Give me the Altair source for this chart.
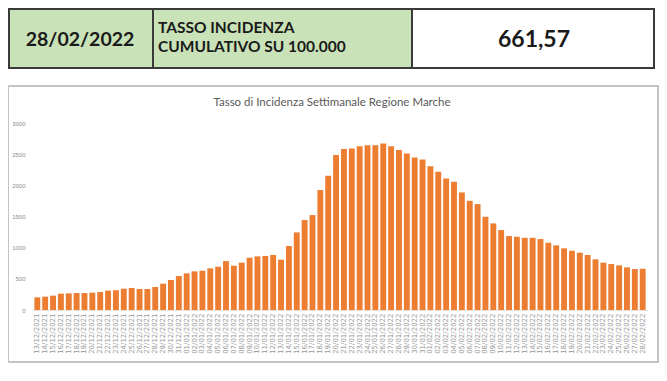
import altair as alt
import pandas as pd

# ---- data ----
dates = [
    "13/12/2021", "14/12/2021", "15/12/2021", "16/12/2021", "17/12/2021", "18/12/2021", "19/12/2021",
    "20/12/2021", "21/12/2021", "22/12/2021", "23/12/2021", "24/12/2021", "25/12/2021", "26/12/2021",
    "27/12/2021", "28/12/2021", "29/12/2021", "30/12/2021", "31/12/2021",
    "01/01/2022", "02/01/2022", "03/01/2022", "04/01/2022", "05/01/2022", "06/01/2022", "07/01/2022",
    "08/01/2022", "09/01/2022", "10/01/2022", "11/01/2022", "12/01/2022", "13/01/2022", "14/01/2022",
    "15/01/2022", "16/01/2022", "17/01/2022", "18/01/2022", "19/01/2022", "20/01/2022", "21/01/2022",
    "22/01/2022", "23/01/2022", "24/01/2022", "25/01/2022", "26/01/2022", "27/01/2022", "28/01/2022",
    "29/01/2022", "30/01/2022", "31/01/2022",
    "01/02/2022", "02/02/2022", "03/02/2022", "04/02/2022", "05/02/2022", "06/02/2022", "07/02/2022",
    "08/02/2022", "09/02/2022", "10/02/2022", "11/02/2022", "12/02/2022", "13/02/2022", "14/02/2022",
    "15/02/2022", "16/02/2022", "17/02/2022", "18/02/2022", "19/02/2022", "20/02/2022", "21/02/2022",
    "22/02/2022", "23/02/2022", "24/02/2022", "25/02/2022", "26/02/2022", "27/02/2022", "28/02/2022",
]
values = [
    203, 214, 230, 262, 267, 272, 272, 278, 289, 310,
    315, 342, 353, 337, 337, 369, 422, 481, 545, 588,
    620, 630, 668, 694, 785, 710, 759, 839, 860, 866,
    882, 807, 1026, 1245, 1443, 1523, 1924, 2153, 2485, 2581,
    2592, 2629, 2645, 2645, 2672, 2629, 2565, 2511, 2447, 2415,
    2308, 2218, 2111, 2057, 1886, 1752, 1699, 1496, 1389, 1282,
    1186, 1175, 1159, 1159, 1138, 1079, 1037, 989, 951, 919,
    882, 813, 759, 737, 716, 684, 657, 661.57,
]
y_ticks = [0, 500, 1000, 1500, 2000, 2500, 3000]
chart_title = "Tasso di Incidenza Settimanale Regione Marche"
header_date = "28/02/2022"
header_label = ["TASSO INCIDENZA", "CUMULATIVO SU 100.000"]
header_value = "661,57"

df = pd.DataFrame({"data": dates, "tasso": values})
one = alt.Data(values=[{"k": 1}])


def box(x1, x2, y1, y2, fill, stroke, sw):
    return alt.Chart(one).mark_rect(fill=fill, stroke=stroke, strokeWidth=sw).encode(
        x=alt.value(x1), x2=alt.value(x2), y=alt.value(y1), y2=alt.value(y2)
    )


def label(txt, x, y, size, align="center", weight="bold", color="#1a1a1a", font="Lato"):
    return alt.Chart(one).mark_text(
        text=txt, font=font, fontSize=size, fontWeight=weight, align=align,
        baseline="middle", color=color
    ).encode(x=alt.value(x), y=alt.value(y))


# chart frame
frame = box(-24, 626, -37, 239, "transparent", "#c4c4c4", 2)

# header table
green = "#c9e2b8"
cell1 = box(-23, 121, -114, -55, green, "#3a3a3a", 2)
cell2 = box(121, 380, -114, -55, green, "#3a3a3a", 2)
cell3 = box(380, 622, -114, -55, "white", "#3a3a3a", 2)

t_date = label(header_date, 48, -83, 19.5)
t_l1 = label(header_label[0], 126, -95, 15.5, align="left")
t_l2 = label(header_label[1], 126, -76, 15.5, align="left")
t_val = label(header_value, 502, -83, 23)

t_title = label(chart_title, 300, -20, 11.5, weight="normal", color="#595959")

bars = alt.Chart(df).mark_bar(color="#ED7D31").encode(
    x=alt.X(
        "data:N", sort=dates,
        scale=alt.Scale(paddingInner=0.25, paddingOuter=0.3),
        axis=alt.Axis(
            title=None, labelAngle=270, labelFontSize=7, labelFont="DejaVu Sans",
            labelColor="#999999", ticks=False, domain=True, domainColor="#e3e3e3",
            labelOverlap=False, labelPadding=3, zindex=1,
        ),
    ),
    y=alt.Y(
        "tasso:Q",
        scale=alt.Scale(domain=[0, 3000], nice=False),
        axis=alt.Axis(
            title=None, values=y_ticks, format="d", grid=False, domain=False, ticks=False,
            labelFontSize=6, labelFont="Liberation Sans", labelColor="#8c8c8c",
            labelPadding=7, zindex=1,
        ),
    ),
)

chart = alt.layer(
    frame, cell1, cell2, cell3, t_date, t_l1, t_l2, t_val, t_title, bars
).properties(
    width=616,
    height=187,
    padding={"left": 24, "top": 115, "right": 11, "bottom": 63},
    autosize=alt.AutoSizeParams(type="none"),
    background="white",
).configure_view(stroke=None)

chart.save("out.html", embed_options={"renderer": "svg", "actions": False})
